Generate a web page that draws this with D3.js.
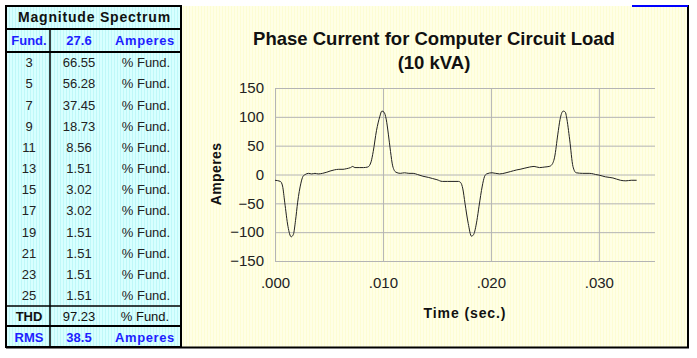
<!DOCTYPE html>
<html>
<head>
<meta charset="utf-8">
<script src="https://cdn.jsdelivr.net/npm/d3@7"></script>
<style>
  body { margin: 0; background: #fff; }
  text { font-family: "Liberation Sans", Arial, sans-serif; }
</style>
</head>
<body>
<div id="chart"></div>
<script>
// magnitude spectrum table
var harmonics = [3, 5, 7, 9, 11, 13, 15, 17, 19, 21, 23, 25];
var harmonicPct = [66.55, 56.28, 37.45, 18.73, 8.56, 1.51, 3.02, 3.02, 1.51, 1.51, 1.51, 1.51];
var fundAmps = "27.6";
var thdPct = "97.23";
var rmsAmps = "38.5";

// phase current waveform
var timeSec = [
  0.0000, 0.0005, 0.0007, 0.0009, 0.0012, 0.0015, 0.0017, 0.0019, 0.0021, 0.0024,
  0.0026, 0.0028, 0.0031, 0.0034, 0.0037, 0.0040, 0.0044, 0.0048, 0.0051, 0.0055,
  0.0059, 0.0063, 0.0066, 0.0070, 0.0072, 0.0074, 0.0078, 0.0082, 0.0086, 0.0089,
  0.0091, 0.0094, 0.0097, 0.0099, 0.0101, 0.0103, 0.0105, 0.0107, 0.0109, 0.0112,
  0.0116, 0.0120, 0.0124, 0.0128, 0.0132, 0.0137, 0.0142, 0.0146, 0.0150, 0.0155,
  0.0160, 0.0170, 0.0172, 0.0174, 0.0176, 0.0179, 0.0182, 0.0184, 0.0187, 0.0189,
  0.0192, 0.0194, 0.0196, 0.0201, 0.0208, 0.0214, 0.0218, 0.0224, 0.0227, 0.0236,
  0.0240, 0.0245, 0.0250, 0.0254, 0.0256, 0.0259, 0.0262, 0.0264, 0.0267, 0.0269,
  0.0270, 0.0273, 0.0276, 0.0279, 0.0285, 0.0291, 0.0295, 0.0297, 0.0300, 0.0306,
  0.0313, 0.0320, 0.0325, 0.0330, 0.0335
];
var currentAmps = [
  -10, -12, -20, -48, -90, -108, -104, -80, -48, -15,
  -3, 0, 2, 1, 2, 1, 2, 4, 6, 8,
  9, 9, 10, 12, 14, 12, 12, 12, 13, 22,
  40, 76, 100, 110, 108, 96, 70, 40, 15, 4,
  2, 3, 2, 2, 0, -3, -5, -7, -9, -12,
  -12, -12, -14, -25, -50, -85, -107, -104, -80, -55,
  -20, -4, 1, 3, 1, 3, 5, 8, 9, 13,
  14, 12, 13, 14, 16, 30, 70, 95, 110, 108,
  100, 60, 14, 3, 2, 2, 1, 0, -1, -4,
  -6, -10, -11, -10, -10
];

var yTicks = [-150, -100, -50, 0, 50, 100, 150];
var xTicks = [0, 0.01, 0.02, 0.03];

var W = 697, H = 358;
var svg = d3.select("#chart").append("svg")
    .attr("width", W)
    .attr("height", H);

var defs = svg.append("defs");
var cyanPat = defs.append("pattern")
    .attr("id", "cyanStripe").attr("patternUnits", "userSpaceOnUse")
    .attr("width", 3).attr("height", 3);
cyanPat.append("rect").attr("width", 3).attr("height", 3).attr("fill", "#d8ffff");
cyanPat.append("rect").attr("width", 1).attr("height", 3).attr("fill", "#bff8f8");
var yelPat = defs.append("pattern")
    .attr("id", "yelStripe").attr("patternUnits", "userSpaceOnUse")
    .attr("width", 3).attr("height", 3);
yelPat.append("rect").attr("width", 3).attr("height", 3).attr("fill", "#ffffe6");
yelPat.append("rect").attr("width", 1).attr("height", 3).attr("fill", "#fdfdd4");

// ---- chart panel background
svg.append("rect")
    .attr("x", 182).attr("y", 6)
    .attr("width", 506).attr("height", 341)
    .style("fill", "url(#yelStripe)");

// ---- table
var tLeft = 6, tRight = 181, tTop = 6, tBottom = 347;
var colDiv = 50;
var c1 = 29, c2 = 79, c3 = 145;
var titleBottom = 29, headBottom = 52, rowH = 21.17;
var thdTop = headBottom + rowH * harmonics.length; // ~306
var rmsTop = 326;

svg.append("rect")
    .attr("x", tLeft).attr("y", tTop)
    .attr("width", tRight - tLeft).attr("height", tBottom - tTop)
    .style("fill", "url(#cyanStripe)");

var tbl = svg.append("g");

tbl.append("text")
    .attr("x", (tLeft + tRight) / 2 + 1).attr("y", 22)
    .attr("text-anchor", "middle")
    .attr("font-size", "14px").attr("font-weight", "bold")
    .attr("letter-spacing", "0.8px")
    .attr("fill", "#111")
    .text("Magnitude Spectrum");

var blue = "#1e1eff";
function headRow(y, a, b, c, color, boldMid){
    tbl.append("text").attr("x", c1).attr("y", y).attr("text-anchor", "middle")
        .attr("font-size", "13px").attr("font-weight", "bold").attr("fill", color).text(a);
    tbl.append("text").attr("x", c2).attr("y", y).attr("text-anchor", "middle")
        .attr("font-size", "13px").attr("font-weight", boldMid ? "bold" : "normal")
        .attr("fill", color).text(b);
    tbl.append("text").attr("x", c3).attr("y", y).attr("text-anchor", "middle")
        .attr("font-size", "13px").attr("font-weight", color == blue ? "bold" : "normal")
        .attr("letter-spacing", color == blue ? "0.6px" : "0px")
        .attr("fill", color).text(c);
}
headRow(45, "Fund.", fundAmps, "Amperes", blue, true);

harmonics.forEach(function(h, i){
    var y = headBottom + rowH * (i + 1) - 6;
    tbl.append("text").attr("x", c1).attr("y", y).attr("text-anchor", "middle")
        .attr("font-size", "13px").attr("fill", "#222").text(h);
    tbl.append("text").attr("x", c2).attr("y", y).attr("text-anchor", "middle")
        .attr("font-size", "13px").attr("fill", "#222").text(harmonicPct[i].toFixed(2));
    tbl.append("text").attr("x", c3 + 1).attr("y", y).attr("text-anchor", "middle")
        .attr("font-size", "13px").attr("fill", "#222").text("% Fund.");
});

headRow(321, "THD", thdPct, "% Fund.", "#111", false);
tbl.select("text:last-child");
headRow(342, "RMS", rmsAmps, "Amperes", blue, true);

// table rules
function hline(y, x1, x2, w){
    svg.append("line").attr("x1", x1).attr("x2", x2).attr("y1", y).attr("y2", y)
        .attr("stroke", "#000").attr("stroke-width", w);
}
hline(titleBottom, tLeft, tRight, 2);
hline(headBottom, tLeft, tRight, 2);
hline(thdTop, tLeft, tRight, 1.5);
hline(rmsTop, tLeft, tRight, 2);
svg.append("line").attr("x1", colDiv).attr("x2", colDiv)
    .attr("y1", titleBottom).attr("y2", tBottom)
    .attr("stroke", "#000").attr("stroke-width", 1.5);
svg.append("rect")
    .attr("x", tLeft).attr("y", tTop)
    .attr("width", tRight - tLeft).attr("height", tBottom - tTop)
    .attr("fill", "none").attr("stroke", "#000").attr("stroke-width", 2);

// panel border: right, bottom, blue stub on top
svg.append("line").attr("x1", 688).attr("x2", 688).attr("y1", 5).attr("y2", 348)
    .attr("stroke", "#000").attr("stroke-width", 2);
hline(347.5, tLeft, 689, 2);
svg.append("line").attr("x1", 632).attr("x2", 688).attr("y1", 6).attr("y2", 6)
    .attr("stroke", "#0000ff").attr("stroke-width", 2);

// ---- plot
var x = d3.scaleLinear().domain([0, 0.0352]).range([275, 655]);
var y = d3.scaleLinear().domain([-150, 150]).range([261, 88]);

var yAxis = d3.axisLeft(y)
    .tickValues(yTicks)
    .tickSize(-(x.range()[1] - x.range()[0]))
    .tickPadding(11);
var xAxis = d3.axisBottom(x)
    .tickValues(xTicks)
    .tickSize(-(y.range()[0] - y.range()[1]))
    .tickPadding(16)
    .tickFormat(function(d){ return d3.format(".3f")(d).replace(/^0/, ""); });

var gy = svg.append("g").attr("transform", "translate(" + x.range()[0] + ",0)").call(yAxis);
var gx = svg.append("g").attr("transform", "translate(0," + y.range()[0] + ")").call(xAxis);
[gx, gy].forEach(function(g){
    g.select(".domain").remove();
    g.selectAll("line").attr("stroke", "#b4b4b4").attr("stroke-width", 1);
    g.selectAll("text")
        .attr("fill", "#222")
        .style("font-size", "15px")
        .style("font-family", "'Liberation Sans', Arial, sans-serif");
});

var pts = timeSec.map(function(t, i){ return [t, currentAmps[i]]; });
var line = d3.line()
    .x(function(d){ return x(d[0]); })
    .y(function(d){ return y(d[1]); })
    .curve(d3.curveMonotoneX);
svg.append("path")
    .datum(pts)
    .attr("d", line)
    .attr("fill", "none")
    .attr("stroke", "#222")
    .attr("stroke-width", 1);

// titles
svg.append("text")
    .attr("x", 434).attr("y", 45)
    .attr("text-anchor", "middle")
    .attr("font-size", "18.5px").attr("font-weight", "bold")
    .attr("fill", "#111")
    .text("Phase Current for Computer Circuit Load");
svg.append("text")
    .attr("x", 434).attr("y", 69)
    .attr("text-anchor", "middle")
    .attr("font-size", "18.5px").attr("font-weight", "bold")
    .attr("fill", "#111")
    .text("(10 kVA)");

svg.append("text")
    .attr("transform", "translate(221,174) rotate(-90)")
    .attr("text-anchor", "middle")
    .attr("font-size", "14px").attr("font-weight", "bold")
    .attr("letter-spacing", "0.4px")
    .attr("fill", "#111")
    .text("Amperes");

svg.append("text")
    .attr("x", 465).attr("y", 318)
    .attr("text-anchor", "middle")
    .attr("font-size", "14px").attr("font-weight", "bold")
    .attr("letter-spacing", "0.9px")
    .attr("fill", "#111")
    .text("Time (sec.)");
</script>
</body>
</html>
